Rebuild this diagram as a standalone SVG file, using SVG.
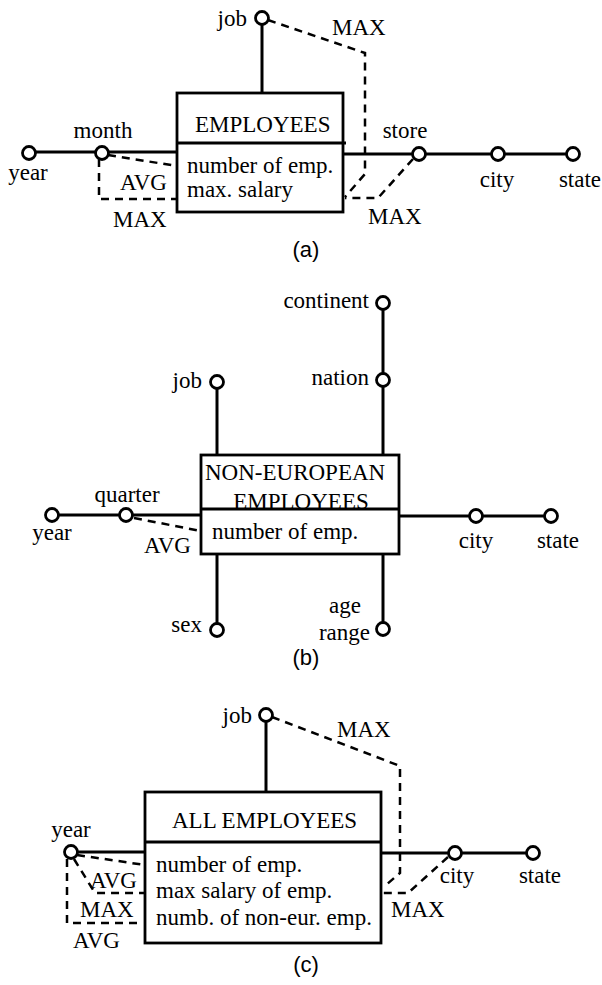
<svg xmlns="http://www.w3.org/2000/svg" width="602" height="985" viewBox="0 0 602 985">
<style>
.bg{fill:#fff}
.ln{stroke:#000;stroke-width:3;fill:none}
.dl{stroke:#000;stroke-width:2.5;fill:none;stroke-dasharray:8,6}
.box{fill:#fff;stroke:#000;stroke-width:2.8}
.dv{stroke:#000;stroke-width:3}
.dim{fill:#fff;stroke:#000;stroke-width:2.8}
text{font-family:"Liberation Serif","Times New Roman",serif;font-size:23px;fill:#000}
.m{text-anchor:middle}
.e{text-anchor:end}
.cap{font-family:"Liberation Sans",Arial,sans-serif;font-size:22px;text-anchor:middle}
</style>
<rect class="bg" x="0" y="0" width="602" height="985"/>

<!-- ===== (a) ===== -->
<g id="connectors-a">
<path class="ln" d="M29,152 H177"/>
<path class="ln" d="M262,18 V93"/>
<path class="ln" d="M343,154 H573"/>
<path class="dl" d="M108,155 L177,166"/>
<path class="dl" d="M99,159 V199 H177"/>
<path class="dl" d="M268,20 L365,53 V174 L345,197"/>
<path class="dl" d="M413,159 L378,198 H345"/>
<text x="120" y="190">AVG</text>
<text x="113" y="227">MAX</text>
<text x="332" y="35">MAX</text>
<text x="368" y="224">MAX</text>
</g>
<g id="fact-employees">
<rect class="box" x="177" y="93" width="166" height="119"/>
<text x="195" y="132">EMPLOYEES</text>
<path class="dv" d="M177,143 H346"/>
<text x="187" y="173">number of emp.</text>
<text x="187" y="197">max. salary</text>
</g>
<g id="a-job"><circle class="dim" cx="262" cy="18" r="6.5"/><text class="e" x="247" y="26">job</text></g>
<g id="a-year"><circle class="dim" cx="29" cy="153" r="6.5"/><text class="m" x="28" y="180">year</text></g>
<g id="a-month"><circle class="dim" cx="102" cy="153" r="6.5"/><text class="m" x="103" y="138">month</text></g>
<g id="a-store"><circle class="dim" cx="419" cy="154" r="6.5"/><text class="m" x="405" y="138">store</text></g>
<g id="a-city"><circle class="dim" cx="498" cy="154" r="6.5"/><text class="m" x="497" y="187">city</text></g>
<g id="a-state"><circle class="dim" cx="573" cy="154" r="6.5"/><text class="m" x="580" y="187">state</text></g>
<text class="cap" x="306" y="257">(a)</text>

<!-- ===== (b) ===== -->
<g id="connectors-b">
<path class="ln" d="M383,303 V455"/>
<path class="ln" d="M217,382 V455"/>
<path class="ln" d="M217,554 V630"/>
<path class="ln" d="M383,554 V629"/>
<path class="ln" d="M52,515 H201"/>
<path class="ln" d="M399,516 H551"/>
<path class="dl" d="M134,518 L201,531"/>
<text x="144" y="553">AVG</text>
</g>
<g id="fact-non-european">
<rect class="box" x="201" y="455" width="198" height="99"/>
<text x="205" y="480">NON-EUROPEAN</text>
<text class="m" x="301" y="508.5">EMPLOYEES</text>
<path class="dv" d="M201,509 H400"/>
<text x="212" y="539">number of emp.</text>
</g>
<g id="b-continent"><circle class="dim" cx="383" cy="303" r="6.5"/><text class="e" x="369" y="308">continent</text></g>
<g id="b-nation"><circle class="dim" cx="383" cy="380" r="6.5"/><text class="e" x="369" y="385">nation</text></g>
<g id="b-job"><circle class="dim" cx="217" cy="382" r="6.5"/><text class="e" x="202" y="388">job</text></g>
<g id="b-year"><circle class="dim" cx="52" cy="515" r="6.5"/><text class="m" x="52" y="540">year</text></g>
<g id="b-quarter"><circle class="dim" cx="126" cy="515" r="6.5"/><text class="m" x="127" y="502">quarter</text></g>
<g id="b-city"><circle class="dim" cx="476" cy="516" r="6.5"/><text class="m" x="476" y="548">city</text></g>
<g id="b-state"><circle class="dim" cx="551" cy="516" r="6.5"/><text class="m" x="558" y="548">state</text></g>
<g id="b-sex"><circle class="dim" cx="217" cy="630" r="6.5"/><text class="e" x="202" y="632">sex</text></g>
<g id="b-age-range"><circle class="dim" cx="383" cy="629" r="6.5"/><text class="m" x="345" y="613">age</text><text class="e" x="370" y="640">range</text></g>
<text class="cap" x="306" y="665">(b)</text>

<!-- ===== (c) ===== -->
<g id="connectors-c">
<path class="ln" d="M266,715 V792"/>
<path class="ln" d="M71,852 H145"/>
<path class="ln" d="M381,853 H533"/>
<path class="dl" d="M77,855 L145,865"/>
<path class="dl" d="M74,859 L95,893 H145"/>
<path class="dl" d="M67,859 V923 H140"/>
<path class="dl" d="M272,717 L400,766 V873 L386,885"/>
<path class="dl" d="M448,857 L408,893 H383"/>
<text x="90" y="888">AVG</text>
<text x="80" y="917">MAX</text>
<text x="73" y="948">AVG</text>
<text x="337" y="737">MAX</text>
<text x="391" y="917">MAX</text>
</g>
<g id="fact-all-employees">
<rect class="box" x="145" y="792" width="236" height="151"/>
<text x="172" y="828">ALL EMPLOYEES</text>
<path class="dv" d="M145,842 H381"/>
<text x="156" y="872">number of emp.</text>
<text x="156" y="898">max salary of emp.</text>
<text x="156" y="925">numb. of non-eur. emp.</text>
</g>
<g id="c-job"><circle class="dim" cx="266" cy="715" r="6.5"/><text class="e" x="252" y="723">job</text></g>
<g id="c-year"><circle class="dim" cx="71" cy="852" r="6.5"/><text class="m" x="71" y="837">year</text></g>
<g id="c-city"><circle class="dim" cx="455" cy="853" r="6.5"/><text class="m" x="457" y="883">city</text></g>
<g id="c-state"><circle class="dim" cx="533" cy="853" r="6.5"/><text class="m" x="540" y="883">state</text></g>
<text class="cap" x="306" y="972">(c)</text>
</svg>
